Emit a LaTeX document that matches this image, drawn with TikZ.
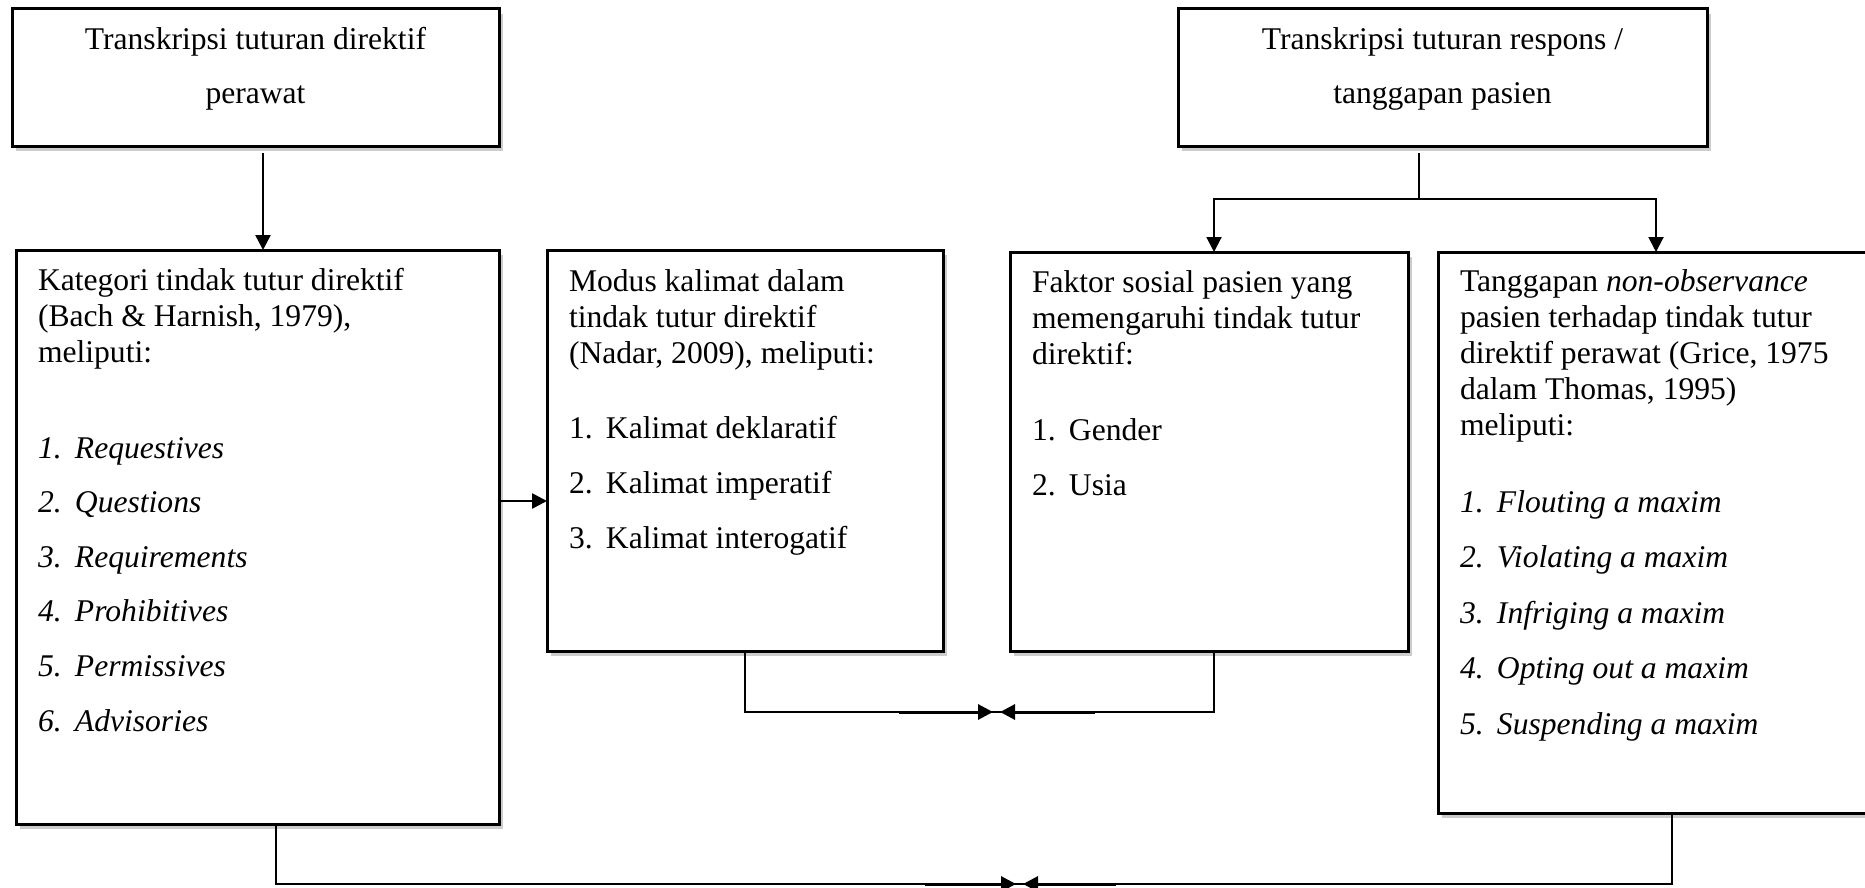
\documentclass[tikz,border=0pt]{standalone}
\usepackage{fontspec}
\setmainfont{Liberation Serif}
\usetikzlibrary{arrows.meta,calc,shadows}
\newcommand{\vlines}[2]{\vtop{\baselineskip=#1\lineskiplimit=-100pt\lineskip=0pt #2}}
\newcommand{\itm}[2]{\hbox{\makebox[37pt][l]{#1}#2}}
\begin{document}
\begin{tikzpicture}[x=1pt,y=-1pt,
  box/.style={draw, line width=3pt, fill=white, inner sep=0pt, outer sep=0pt,
    drop shadow={shadow xshift=4pt,shadow yshift=-5pt,fill=black!20,opacity=1}},
  txt/.style={inner sep=0pt, outer sep=0pt, font=\fontsize{31.6}{36}\selectfont},
  conn/.style={line width=1.4pt},
  bold/.style={line width=3pt},
  tip/.style={-{Triangle[length=15pt,width=15pt]}}
]
\useasboundingbox (0,0) rectangle (1865,888);

% boxes
\node[box, minimum width=487pt, minimum height=137pt] (b1) at (255.5,77.5) {};
\node[box, minimum width=529pt, minimum height=137pt] (b2) at (1442.5,77.5) {};
\node[box, minimum width=483pt, minimum height=574pt] (kat) at (257.5,537) {};
\node[box, minimum width=396pt, minimum height=401pt] (mod) at (745,450.5) {};
\node[box, minimum width=398pt, minimum height=399pt] (fak) at (1209,451.5) {};
\node[box, minimum width=468pt, minimum height=561pt] (tan) at (1672,532.5) {};

% top texts
\node[txt, anchor=base] (b1a) at (255.5,50) {Transkripsi tuturan direktif};
\node[txt, anchor=base] (b1b) at (255.5,104) {perawat};
\node[txt, anchor=base] (b2a) at (1442.5,50) {Transkripsi tuturan respons /};
\node[txt, anchor=base] (b2b) at (1442.5,104) {tanggapan pasien};

% Kategori
\node[txt, anchor=base west] (katT) at (38,290) {\vlines{36pt}{%
  \hbox{Kategori tindak tutur direktif}\hbox{(Bach \& Harnish, 1979),}\hbox{meliputi:}}};
\node[txt, anchor=base west] (katL) at (38,458) {\itshape\vlines{54.6pt}{%
  \itm{1.}{Requestives}\itm{2.}{Questions}\itm{3.}{Requirements}%
  \itm{4.}{Prohibitives}\itm{5.}{Permissives}\itm{6.}{Advisories}}};

% Modus
\node[txt, anchor=base west] (modT) at (569,291) {\vlines{36pt}{%
  \hbox{Modus kalimat dalam}\hbox{tindak tutur direktif}\hbox{(Nadar, 2009), meliputi:}}};
\node[txt, anchor=base west] (modL) at (569,438) {\vlines{55pt}{%
  \itm{1.}{Kalimat deklaratif}\itm{2.}{Kalimat imperatif}\itm{3.}{Kalimat interogatif}}};

% Faktor
\node[txt, anchor=base west] (fakT) at (1032,292) {\vlines{36pt}{%
  \hbox{Faktor sosial pasien yang}\hbox{memengaruhi tindak tutur}\hbox{direktif:}}};
\node[txt, anchor=base west] (fakL) at (1032,440) {\vlines{55pt}{%
  \itm{1.}{Gender}\itm{2.}{Usia}}};

% Tanggapan
\node[txt, anchor=base west] (tanT) at (1460,291) {\vlines{36pt}{%
  \hbox{Tanggapan \textit{non-observance}}\hbox{pasien terhadap tindak tutur}%
  \hbox{direktif perawat (Grice, 1975}\hbox{dalam Thomas, 1995)}\hbox{meliputi:}}};
\node[txt, anchor=base west] (tanL) at (1460,512) {\itshape\vlines{55.5pt}{%
  \itm{1.}{Flouting a maxim}\itm{2.}{Violating a maxim}\itm{3.}{Infriging a maxim}%
  \itm{4.}{Opting out a maxim}\itm{5.}{Suspending a maxim}}};

% connectors
\draw[line width=2.6pt, tip] ($(b1.south)+(7.5,7)$) -- ($(kat.north)+(5.5,0)$);

\coordinate (sp) at ($(b2.south)+(-23.5,53)$);
\draw[line width=1.6pt] ($(b2.south)+(-23.5,7)$) -- (sp);
\draw[line width=2pt, tip] (sp) -| ($(fak.north)+(5,0)$);
\draw[line width=2pt, tip] (sp) -| ($(tan.north)+(-16,0)$);

\coordinate (ka) at ($(kat.east)+(0,-36)$);
\draw[line width=2.6pt, tip] (ka) -- (ka -| mod.west);

\coordinate (jm) at (996.5,712);
\draw[conn] (mod.south) |- (jm) -| ($(fak.south)+(5,0)$);
\draw[bold, tip] ($(jm)+(-97.5,0)$) -- ($(jm)+(-3.5,0)$);
\draw[bold, tip] ($(jm)+(98.5,0)$) -- ($(jm)+(3.5,0)$);

\coordinate (jb) at (1019.5,884);
\draw[conn] ($(kat.south)+(18.5,0)$) |- (jb) -| (tan.south);
\draw[bold, tip] ($(jb)+(-94.5,0)$) -- ($(jb)+(-3.5,0)$);
\draw[bold, tip] ($(jb)+(96.5,0)$) -- ($(jb)+(3.5,0)$);
\end{tikzpicture}
\end{document}
